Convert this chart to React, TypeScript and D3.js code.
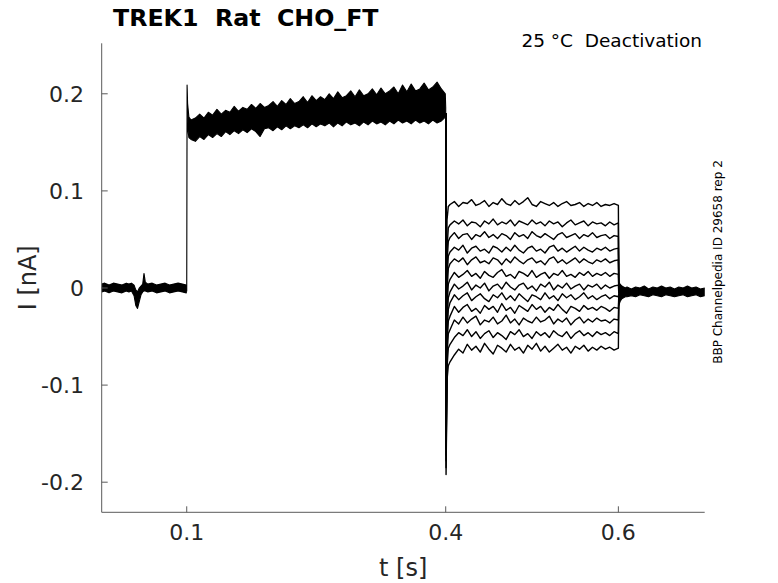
import * as d3 from "d3"

// sampled current traces, values in pA (converted to nA when drawn)
const xTicks = [0.1, 0.4, 0.6]
const yTicks = [-0.2, -0.1, 0, 0.1, 0.2]

// holding period before the step: envelope of the overlapping sweeps
const baseTimes = [0.0015, 0.005, 0.01, 0.015, 0.02, 0.025, 0.03, 0.033, 0.036, 0.039, 0.041, 0.043, 0.045, 0.047, 0.049, 0.0505, 0.052, 0.055, 0.06, 0.065, 0.07, 0.075, 0.08, 0.085, 0.09, 0.095, 0.0995]
const baseUpper = [4, 5, 3, 5, 4, 3, 5, 4, 5, 3, -2, -4, 0, 2, 4, 15, 6, 4, 5, 3, 4, 5, 3, 4, 5, 4, 3]
const baseLower = [-4, -3, -5, -3, -4, -5, -3, -4, -3, -8, -18, -21, -14, -7, -4, -3, -3, -4, -3, -5, -4, -3, -5, -4, -3, -4, -5]

// activating step 0.1 - 0.4 s: envelope of the sweeps
const pulseTimes = [0.1, 0.1004, 0.101, 0.1025, 0.105, ...d3.range(0.11, 0.3951, 0.005), 0.3995, 0.4]
const pulseUpper = [3, 209, 190, 176, 173,
  175, 179, 175, 181, 178, 184, 179, 183, 181, 187, 182, 186, 184, 189, 185, 190, 186, 188, 192, 187,
  193, 189, 195, 190, 192, 197, 191, 198, 193, 197, 194, 200, 195, 202, 196, 198, 203, 197, 204, 198,
  200, 205, 199, 206, 200, 203, 207, 200, 209, 202, 210, 203, 205, 211, 204, 207, 212, 205,
  200, 186]
const pulseLower = [-3, 180, 165, 155, 153,
  151, 156, 153, 158, 155, 159, 156, 161, 158, 162, 159, 163, 160, 164, 161, 156, 164, 165, 162, 166,
  163, 167, 164, 167, 165, 168, 165, 169, 166, 169, 167, 170, 166, 170, 167, 171, 168, 170, 167, 171,
  168, 172, 169, 171, 168, 172, 169, 173, 170, 172, 169, 173, 170, 172, 169, 173, 170, 172,
  176, 175]

// deactivation tails 0.4 - 0.6 s, one row per sweep
const tailTimes = [0.4, 0.4004, 0.4015, 0.403, ...d3.range(0.405, 0.6001, 0.005), 0.6005]
const tails = [
  [180, -110, 70, 84, 86, 89, 84, 88, 87, 91, 85, 87, 90, 84, 88, 86, 92, 87, 85, 90, 86, 89, 93, 86, 84, 89, 87, 85, 88, 84, 87, 89, 85, 86, 88, 84, 87, 85, 88, 84, 86, 85, 87, 85, -2],
  [180, -120, 40, 62, 65, 69, 66, 70, 64, 68, 67, 63, 69, 66, 71, 65, 68, 66, 70, 64, 69, 67, 65, 70, 66, 68, 64, 69, 66, 68, 63, 67, 70, 65, 67, 69, 64, 68, 66, 67, 64, 68, 65, 67, -3],
  [180, -130, 25, 48, 52, 57, 51, 55, 56, 50, 55, 53, 58, 52, 55, 51, 56, 54, 50, 57, 53, 55, 51, 58, 54, 52, 56, 53, 50, 55, 57, 52, 54, 56, 51, 55, 53, 57, 52, 54, 55, 51, 54, 53, -4],
  [180, -135, 10, 33, 37, 42, 39, 44, 36, 41, 43, 38, 40, 36, 43, 41, 37, 42, 38, 44, 39, 36, 41, 43, 38, 40, 36, 42, 44, 38, 41, 37, 40, 43, 38, 42, 39, 37, 41, 39, 42, 38, 40, 41, -4],
  [180, -145, -5, 20, 25, 30, 27, 31, 24, 29, 32, 26, 28, 25, 31, 29, 24, 30, 26, 32, 28, 25, 29, 31, 26, 28, 24, 30, 32, 26, 29, 25, 28, 31, 26, 30, 27, 25, 29, 27, 30, 26, 28, 29, -5],
  [180, -150, -20, 4, 9, 16, 11, 14, 18, 12, 15, 10, 17, 13, 11, 16, 19, 12, 14, 10, 17, 15, 12, 18, 11, 14, 16, 10, 15, 13, 18, 12, 14, 11, 16, 13, 17, 12, 15, 13, 16, 12, 15, 14, -5],
  [180, -158, -35, -10, -4, 4, -1, 2, 6, -2, 3, 0, 5, -3, 2, 4, -1, 6, 1, -2, 3, 5, -1, 2, -3, 4, 1, 6, -2, 3, 0, 5, -1, 2, 4, -2, 3, 1, 4, -1, 3, 0, 2, 3, -6],
  [180, -165, -50, -22, -15, -7, -12, -8, -5, -13, -9, -6, -11, -14, -7, -10, -5, -12, -8, -13, -6, -10, -14, -7, -9, -12, -5, -11, -8, -13, -6, -10, -7, -12, -9, -5, -11, -8, -12, -9, -7, -11, -8, -9, -6],
  [180, -172, -60, -34, -29, -19, -25, -20, -17, -24, -21, -26, -18, -22, -19, -25, -16, -23, -20, -26, -18, -21, -24, -17, -22, -19, -25, -20, -23, -17, -22, -26, -19, -21, -24, -18, -22, -20, -23, -19, -21, -24, -20, -21, -7],
  [180, -178, -70, -47, -43, -33, -37, -30, -36, -32, -29, -38, -33, -35, -30, -37, -34, -28, -36, -32, -38, -31, -34, -36, -30, -35, -33, -29, -37, -32, -35, -31, -38, -33, -30, -36, -32, -35, -31, -34, -33, -36, -32, -33, -8],
  [180, -185, -82, -62, -58, -51, -46, -49, -43, -50, -45, -52, -47, -44, -51, -46, -49, -53, -45, -48, -43, -50, -47, -52, -45, -49, -46, -51, -44, -48, -50, -45, -52, -47, -44, -49, -46, -50, -45, -48, -46, -49, -45, -47, -10],
  [180, -192, -95, -80, -76, -69, -63, -67, -58, -64, -60, -66, -57, -63, -68, -59, -62, -66, -58, -64, -61, -67, -59, -63, -57, -65, -60, -66, -62, -58, -64, -61, -67, -60, -63, -59, -65, -61, -64, -60, -63, -61, -64, -62, -12],
]

// after returning to holding potential
const postTimes = [0.6005, 0.602, 0.604, 0.606, 0.608, 0.61, 0.615, 0.62, 0.625, 0.63, 0.635, 0.64, 0.645, 0.65, 0.655, 0.66, 0.665, 0.67, 0.675, 0.68, 0.685, 0.69, 0.695, 0.7]
const postUpper = [6, 4, 2, 1, 0, 1, -1, 1, 0, 2, -1, 1, 0, 2, 0, 1, -1, 1, 0, 2, 0, 1, -1, 0]
const postLower = [-18, -14, -11, -10, -9, -9, -8, -9, -7, -8, -9, -7, -8, -9, -7, -8, -9, -8, -7, -9, -8, -7, -9, -8]

const W = 778
const H = 583
const FONT = "'DejaVu Sans', sans-serif"

export default function App() {
  const x = d3.scaleLinear().domain([0.0015, 0.7]).range([101.7, 704.7])
  const y = d3.scaleLinear().domain([-0.231, 0.252]).range([512.3, 43.3])
  const [x0, x1] = x.range()
  const [y0, y1] = y.range()

  const band = (times: number[], up: number[], lo: number[]) =>
    d3
      .area<number>()
      .x((t) => x(t))
      .y0((_, i) => y(lo[i] / 1000))
      .y1((_, i) => y(up[i] / 1000))(times) ?? ""

  const line = d3
    .line<number>()
    .x((_, i) => x(tailTimes[i]))
    .y((v) => y(v / 1000))

  return (
    <svg width={W} height={H} style={{ position: "absolute", left: 0, top: 0, background: "#fff" }} fontFamily={FONT}>
      <defs>
        <clipPath id="plot">
          <rect x={x0} y={y1} width={x1 - x0} height={y0 - y1} />
        </clipPath>
      </defs>

      <g clipPath="url(#plot)" stroke="#000" strokeLinejoin="round">
        <path d={band(baseTimes, baseUpper, baseLower)} fill="#000" strokeWidth={1.1} />
        <path d={band(pulseTimes, pulseUpper, pulseLower)} fill="#000" strokeWidth={1.1} />
        <path d={band(postTimes, postUpper, postLower)} fill="#000" strokeWidth={1.1} />
        {tails.map((tr, i) => (
          <path key={i} d={line(tr) ?? ""} fill="none" strokeWidth={1.4} />
        ))}
      </g>

      {/* axes */}
      <g stroke="#5a5a5a" strokeWidth={1} fill="none">
        <line x1={x0} x2={x0} y1={y1} y2={y0} />
        <line x1={x0} x2={x1} y1={y0} y2={y0} />
        {xTicks.map((t) => (
          <line key={t} x1={x(t)} x2={x(t)} y1={y0} y2={y0 - 6} />
        ))}
        {yTicks.map((t) => (
          <line key={t} x1={x0} x2={x0 + 6} y1={y(t)} y2={y(t)} />
        ))}
      </g>

      <g fill="#262626" fontSize={22}>
        {xTicks.map((t) => (
          <text key={t} x={x(t)} y={540} textAnchor="middle">
            {String(t)}
          </text>
        ))}
        {yTicks.map((t) => (
          <text key={t} x={84} y={y(t)} dy="0.36em" textAnchor="end">
            {String(t)}
          </text>
        ))}
        <text x={(x0 + x1) / 2} y={576} textAnchor="middle" fontSize={24}>
          t [s]
        </text>
        <text transform={`translate(36,${(y0 + y1) / 2}) rotate(-90)`} textAnchor="middle" fontSize={24}>
          I [nA]
        </text>
      </g>

      <text x={113} y={26} fontSize={23.7} fontWeight="bold" fill="#000" style={{ whiteSpace: "pre" }}>
        {"TREK1  Rat  CHO_FT"}
      </text>
      <text x={702} y={47} fontSize={18.5} textAnchor="end" fill="#000" style={{ whiteSpace: "pre" }}>
        {"25 °C  Deactivation"}
      </text>
      <text transform="translate(722,262) rotate(-90)" fontSize={12} textAnchor="middle" fill="#000">
        BBP Channelpedia ID 29658 rep 2
      </text>
    </svg>
  )
}
